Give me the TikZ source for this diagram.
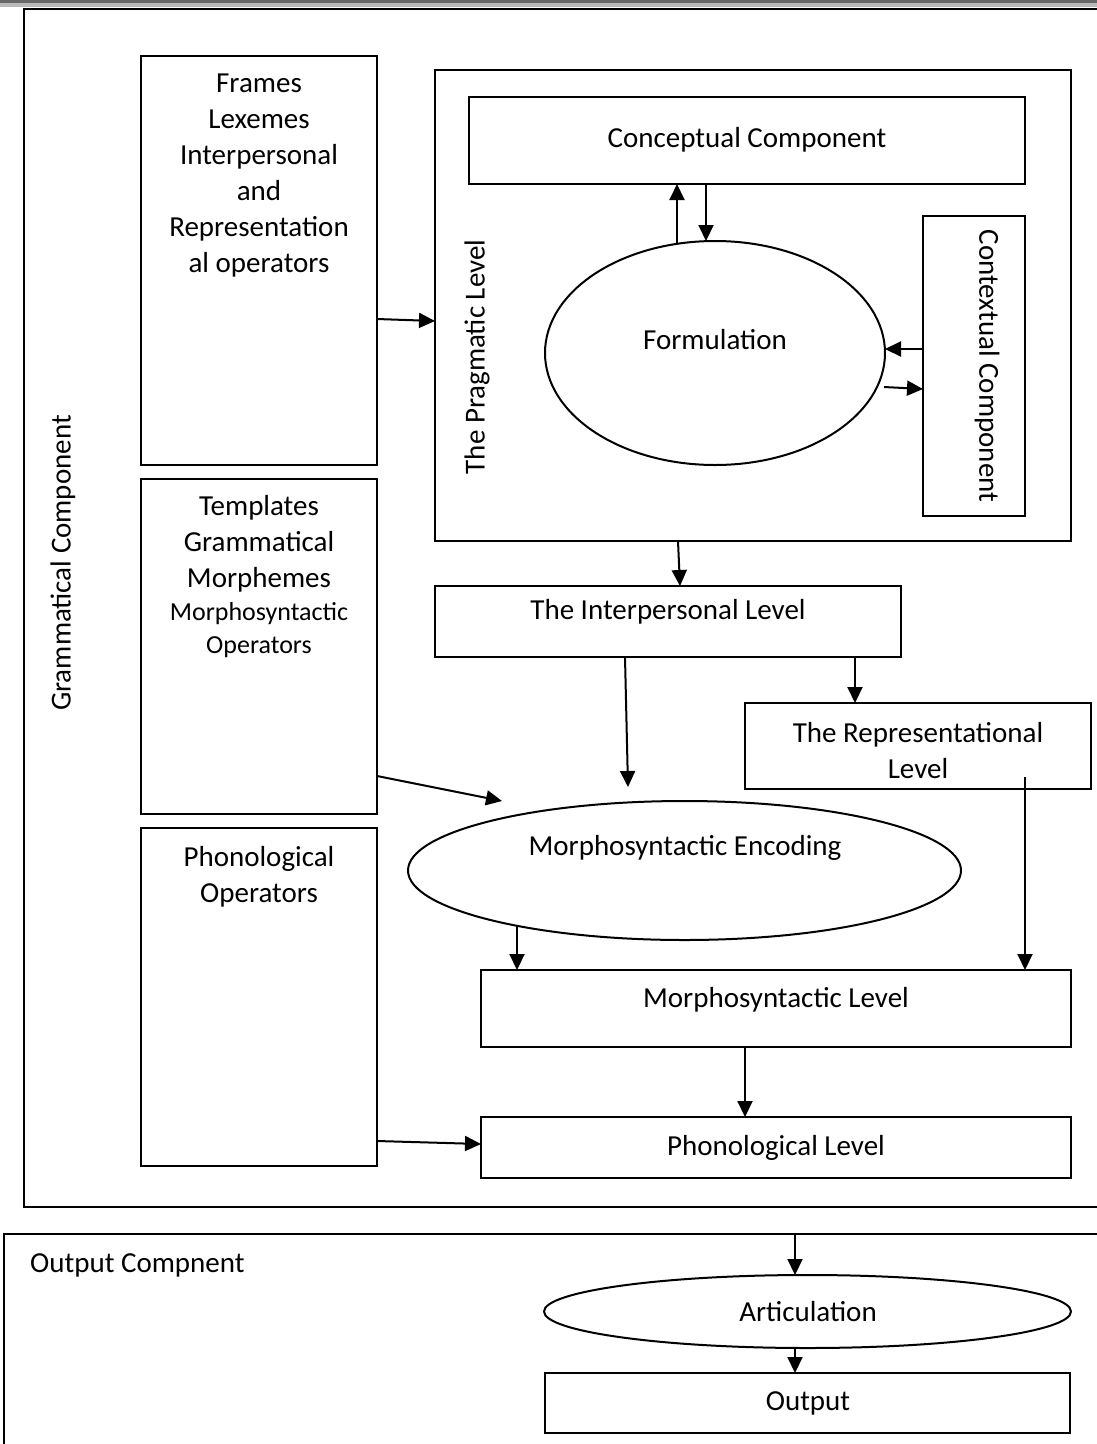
\documentclass[tikz,border=0pt]{standalone}
\usepackage{fontspec}
\setmainfont{Carlito}
\usetikzlibrary{shapes.geometric,arrows.meta,calc}
\tikzset{
  lw/.style={line width=2pt},
  bx/.style={draw, lw, rectangle, inner sep=0pt, outer sep=0pt},
  el/.style={draw, lw, ellipse, inner sep=0pt, outer sep=0pt},
  txt/.style={inner sep=0pt, font=\fontsize{29}{36}\selectfont, align=center},
  smalltxt/.style={inner sep=0pt, font=\fontsize{26}{33}\selectfont, align=center},
  arr/.style={lw, -{Triangle[length=16pt,width=15pt]}}
}
\begin{document}
\begin{tikzpicture}[x=1pt,y=-1pt]
\useasboundingbox (0,0) rectangle (1097,1444);
\clip (0,0) rectangle (1097,1444);
\fill[white] (0,0) rectangle (1097,1444);
% page strip at the top
\fill[black!60] (0,0) rectangle (1097,3);
\fill[black!27] (0,3) rectangle (1097,6.5);

% outer boxes
\node[bx, minimum width=1086pt, minimum height=1198pt] (gram) at (567,608) {};
\node[bx, minimum width=1106pt, minimum height=240pt] (outbox) at (557,1354) {};

% left column boxes
\node[bx, minimum width=236pt, minimum height=409pt] (frames) at (259,260.5) {};
\node[bx, minimum width=236pt, minimum height=335pt] (templ) at (259,646.5) {};
\node[bx, minimum width=236pt, minimum height=338pt] (phonops) at (259,997) {};

% pragmatic level
\node[bx, minimum width=636pt, minimum height=471pt] (prag) at (753,305.5) {};
\node[bx, minimum width=556pt, minimum height=87pt] (concept) at (747,140.5) {};
\node[bx, minimum width=102pt, minimum height=300pt] (context) at (974,366) {};
\node[el, minimum width=340pt, minimum height=224pt] (formul) at (715,353) {};

% levels
\node[bx, minimum width=466pt, minimum height=71pt] (interp) at (668,621.5) {};
\node[bx, minimum width=346pt, minimum height=86pt] (repr) at (918,746) {};
\node[el, minimum width=553pt, minimum height=139pt] (mencode) at (684.5,870.5) {};
\node[bx, minimum width=590pt, minimum height=77pt] (mlevel) at (776,1008.5) {};
\node[bx, minimum width=590pt, minimum height=61pt] (plevel) at (776,1147.5) {};

% output component
\node[el, minimum width=527pt, minimum height=73pt] (artic) at (807.5,1311.5) {};
\node[bx, minimum width=525pt, minimum height=60pt] (output) at (807.5,1403) {};

% texts
\node[txt] (tframes) at (259,176) {Frames\\Lexemes\\Interpersonal\\and\\Representation\\al operators};
\node[txt] (ttempl) at (259,544) {Templates\\Grammatical\\Morphemes};
\node[smalltxt] (ttempl2) at (259,630.5) {Morphosyntactic\\Operators};
\node[txt] (tphon) at (259,876.5) {Phonological\\Operators};
\node[txt] (tconcept) at (747,140) {Conceptual Component};
\node[txt] (tformul) at (715,340) {Formulation};
\node[txt, rotate=-90] (tcontext) at (987,366) {Contextual Component};
\node[txt, rotate=90] (tprag) at (477,357) {The Pragmatic Level};
\node[txt, rotate=90] (tgram) at (63,563) {Grammatical Component};
\node[txt] (tinterp) at (668,612) {The Interpersonal Level};
\node[txt] (trepr) at (918,750.5) {The Representational\\Level};
\node[txt] (tmencode) at (685,848) {Morphosyntactic Encoding};
\node[txt] (tmlevel) at (776,1000) {Morphosyntactic Level};
\node[txt] (tplevel) at (776,1148) {Phonological Level};
\node[txt, anchor=west] (tout) at (30,1265) {Output Compnent};
\node[txt] (tartic) at (808,1312) {Articulation};
\node[txt] (toutput) at (808,1403) {Output};

% connectors
\draw[arr] (frames.east |- 0,319) -- (prag.west |- 0,321);
\draw[arr] ($(formul.north -| 677,0)+(0,2)$) -- (concept.south -| 677,0);
\draw[arr] (concept.south -| 706,0) -- (formul.north -| 706,0);
\draw[arr] (context.west |- 0,349) -- (formul.east |- 0,349);
\draw[arr] ($(formul.east |- 0,387)+(-1,0)$) -- (context.west |- 0,389);
\draw[arr] (prag.south -| 678,0) -- (interp.north -| 680,0);
\draw[arr] (interp.south -| 625,0) -- ($(mencode.north -| 628,0)+(0,-14)$);
\draw[arr] (interp.south -| 855,0) -- (repr.north -| 855,0);
\draw[arr] (templ.east |- 0,776) -- (mencode.north -| 502,0);
\draw[arr] ($(repr.south -| 1025,0)+(0,-12)$) -- (mlevel.north -| 1025,0);
\draw[arr] ($(mencode.south -| 517,0)+(0,-14)$) -- (mlevel.north -| 517,0);
\draw[arr] (mlevel.south -| 745,0) -- (plevel.north -| 745,0);
\draw[arr] (phonops.east |- 0,1141) -- (plevel.west |- 0,1144);
\draw[arr] (outbox.north -| 795,0) -- (artic.north -| 795,0);
\draw[arr] (artic.south -| 795,0) -- (output.north -| 795,0);
\end{tikzpicture}
\end{document}
